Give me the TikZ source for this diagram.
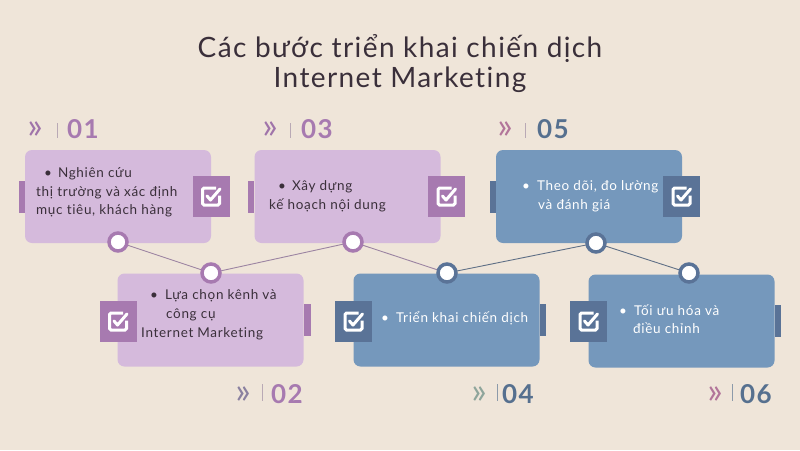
\documentclass[tikz,border=0pt]{standalone}
\usepackage{fontspec}
\setmainfont{Lato}[LetterSpace=5, Ligatures=NoCommon]
\newfontfamily\chevfont{Lato}
\definecolor{bg}{HTML}{EFE5D9}
\definecolor{pbox}{HTML}{D5BADC}
\definecolor{pdark}{HTML}{A77AB0}
\definecolor{bbox}{HTML}{7598BC}
\definecolor{bdark}{HTML}{5A7397}
\definecolor{ink}{HTML}{3A2F3A}
\definecolor{plin}{HTML}{9C84A2}
\definecolor{blin}{HTML}{5F6F86}
\definecolor{chp}{HTML}{A074AA}
\definecolor{chg}{HTML}{8A80A0}
\definecolor{chgr}{HTML}{8EA59B}
\definecolor{chpk}{HTML}{B2759A}
\definecolor{barp}{HTML}{B9A9B5}
\definecolor{barb}{HTML}{8C9AAA}
\definecolor{numb}{HTML}{56708F}
\tikzset{
  card/.style={rounded corners=7pt, minimum width=186pt, minimum height=93pt, inner sep=0pt},
  pcard/.style={card, fill=pbox},
  bcard/.style={card, fill=bbox},
  tabbox/.style={minimum width=6pt, minimum height=32pt, inner sep=0pt},
  chk/.style={minimum width=37pt, minimum height=41pt, inner sep=0pt},
  icon/.style={draw=white, line width=3pt, rounded corners=1.5pt},
  ring/.style={circle, fill=white, line width=3.5pt, minimum size=18pt, inner sep=0pt},
  lbl/.style={inner sep=0pt, anchor=base west, font=\fontsize{13.5}{15}\selectfont},
  ptxt/.style={lbl, text=ink},
  btxt/.style={lbl, text=white},
  num/.style={inner sep=0pt, anchor=base west, font=\fontsize{26}{28}\selectfont\bfseries},
  chev/.style={inner sep=0pt, anchor=base, font=\fontsize{36}{38}\chevfont},
  conn/.style={line width=0.9pt},
}
\newcommand{\chkicon}[1]{%
  \draw[icon] ([shift={(5,-8.5)}]#1.center) -- ([shift={(-8.5,-8.5)}]#1.center) -- ([shift={(-8.5,8.5)}]#1.center) -- ([shift={(8.5,8.5)}]#1.center) -- ([shift={(8.5,-1)}]#1.center);
  \draw[draw=white, line width=3pt, line cap=round, line join=round] ([shift={(-4,-0.5)}]#1.center) -- ([shift={(-0.5,3.5)}]#1.center) -- ([shift={(9,-7.5)}]#1.center);
}
\begin{document}
\begin{tikzpicture}[x=1pt,y=-1pt]
\fill[bg] (0,0) rectangle (800,450);
\useasboundingbox (0,0) rectangle (800,450);

% title
\node[inner sep=0pt, anchor=base, text=ink, font=\fontsize{28}{30}\selectfont] (title1) at (400,57) {Các bước triển khai chiến dịch};
\node[inner sep=0pt, anchor=base, text=ink, font=\fontsize{28}{30}\selectfont] (title2) at (400,87) {Internet Marketing};

% cards
\node[pcard] (b1) at (118,196.5) {};
\node[pcard] (b3) at (347.5,196.5) {};
\node[bcard] (b5) at (589,196.5) {};
\node[pcard] (b2) at (210.5,320) {};
\node[bcard] (b4) at (446.5,320) {};
\node[bcard] (b6) at (681.5,321) {};

% tabs
\node[tabbox, fill=pdark, anchor=east] (tab1) at (b1.west) {};
\node[tabbox, fill=pdark, anchor=east] (tab3) at (b3.west) {};
\node[tabbox, fill=bdark, anchor=east] (tab5) at (b5.west) {};
\node[tabbox, fill=pdark, anchor=west, minimum width=7pt] (tab2) at (b2.east) {};
\node[tabbox, fill=bdark, anchor=west] (tab4) at (b4.east) {};
\node[tabbox, fill=bdark, anchor=west] (tab6) at (b6.east) {};

% check boxes
\node[chk, fill=pdark] (k1) at (211,196.5) {};
\node[chk, fill=pdark] (k3) at (446.5,196.5) {};
\node[chk, fill=bdark] (k5) at (681.5,196.5) {};
\node[chk, fill=pdark] (k2) at (118,321.5) {};
\node[chk, fill=bdark] (k4) at (353.5,321.5) {};
\node[chk, fill=bdark] (k6) at (588.5,321.5) {};
\chkicon{k1}\chkicon{k3}\chkicon{k5}\chkicon{k2}\chkicon{k4}\chkicon{k6}

% connectors
\coordinate (p1) at (118,242);
\coordinate (p2) at (211,273);
\coordinate (p3) at (353,242);
\coordinate (p4) at (447,273);
\coordinate (p5) at (596,243);
\coordinate (p6) at (689,273);
\draw[conn, draw=plin] (p1) -- (p2);
\draw[conn, draw=plin] (p2) -- (p3);
\draw[conn, draw=plin] (p3) -- (p4);
\draw[conn, draw=blin] (p4) -- (p5);
\draw[conn, draw=blin] (p5) -- (p6);
\node[ring, draw=pdark] (c1) at (p1) {};
\node[ring, draw=pdark] (c2) at (p2) {};
\node[ring, draw=pdark] (c3) at (p3) {};
\node[ring, draw=bdark] (c4) at (p4) {};
\node[ring, draw=bdark] (c5) at (p5) {};
\node[ring, draw=bdark] (c6) at (p6) {};

% texts box 1
\node[ptxt] (t1a) at (44,177) {•\hspace{6pt}Nghiên cứu};
\node[ptxt] (t1b) at (36,196) {thị trường và xác định};
\node[ptxt] (t1c) at (36,214) {mục tiêu, khách hàng};
% box 3
\node[ptxt] (t3a) at (278,190) {•\hspace{6pt}Xây dựng};
\node[ptxt] (t3b) at (269,209) {kế hoạch nội dung};
% box 5
\node[btxt] (t5a) at (522,190) {•\hspace{7pt}Theo dõi, đo lường};
\node[btxt] (t5b) at (538,209) {và đánh giá};
% box 2
\node[ptxt] (t2a) at (150,299) {•\hspace{7pt}Lựa chọn kênh và};
\node[ptxt] (t2b) at (166,318) {công cụ};
\node[ptxt] (t2c) at (141,337) {Internet Marketing};
% box 4
\node[btxt] (t4a) at (381,322) {•\hspace{7pt}Triển khai chiến dịch};
% box 6
\node[btxt] (t6a) at (619,315) {•\hspace{7pt}Tối ưu hóa và};
\node[btxt] (t6b) at (633,333) {điều chỉnh};

% number labels
\node[chev, text=chp] (h1) at (35,138) {»};
\draw[barp, line width=1pt] (57,123) coordinate (s1a) -- (57,138) coordinate (s1b);
\node[num, text=pdark] (n1) at (67,138) {01};

\node[chev, text=chp] (h3) at (270,138) {»};
\draw[barp, line width=1pt] (290,123) coordinate (s3a) -- (290,138) coordinate (s3b);
\node[num, text=pdark] (n3) at (301,138) {03};

\node[chev, text=chpk] (h5) at (505,138) {»};
\draw[barp, line width=1pt] (525,123) coordinate (s5a) -- (525,138) coordinate (s5b);
\node[num, text=numb] (n5) at (537,138) {05};

\node[chev, text=chg] (h2) at (243,403) {»};
\draw[barp, line width=1pt] (262,384) coordinate (s2a) -- (262,401) coordinate (s2b);
\node[num, text=pdark] (n2) at (271,403) {02};

\node[chev, text=chgr] (h4) at (479,403) {»};
\draw[barb, line width=1pt] (497,384) coordinate (s4a) -- (497,401) coordinate (s4b);
\node[num, text=numb] (n4) at (502,403) {04};

\node[chev, text=chpk] (h6) at (715,403) {»};
\draw[barb, line width=1pt] (732,384) coordinate (s6a) -- (732,401) coordinate (s6b);
\node[num, text=numb] (n6) at (740,403) {06};
\end{tikzpicture}
\end{document}
